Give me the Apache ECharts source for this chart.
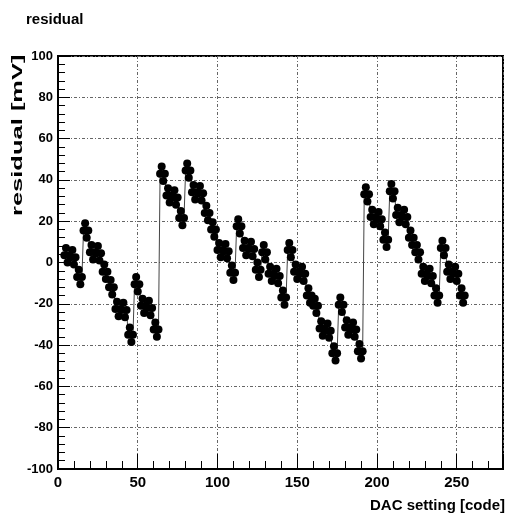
<!DOCTYPE html>
<html>
<head>
<meta charset="utf-8">
<script src="https://cdn.jsdelivr.net/npm/echarts@6/dist/echarts.min.js"></script>
<style>
html,body{margin:0;padding:0;background:#fff;}
#chart{width:510px;height:520px;}
</style>
</head>
<body>
<div id="chart"></div>
<script>
// ---- data ----
const chartTitle = 'residual';
const xAxisTitle = 'DAC setting [code]';
const yAxisTitle = 'residual [mV]';
const xRange = [0, 279];
const yRange = [-100, 100];
const xTickValues = [0, 50, 100, 150, 200, 250];
const yTickValues = [-100, -80, -60, -40, -20, 0, 20, 40, 60, 80, 100];

const dacCodes = [
  4,5,6,7,8,9,10,11,12,13,14,15,
  16,17,18,19,20,21,22,23,24,25,26,27,28,29,30,31,
  32,33,34,35,36,37,38,39,40,41,42,43,44,45,46,47,
  48,49,50,51,52,53,54,55,56,57,58,59,60,61,62,63,
  64,65,66,67,68,69,70,71,72,73,74,75,76,77,78,79,
  80,81,82,83,84,85,86,87,88,89,90,91,92,93,94,95,
  96,97,98,99,100,101,102,103,104,105,106,107,108,109,110,111,
  112,113,114,115,116,117,118,119,120,121,122,123,124,125,126,127,
  128,129,130,131,132,133,134,135,136,137,138,139,140,141,142,143,
  144,145,146,147,148,149,150,151,152,153,154,155,156,157,158,159,
  160,161,162,163,164,165,166,167,168,169,170,171,172,173,174,175,
  176,177,178,179,180,181,182,183,184,185,186,187,188,189,190,191,
  192,193,194,195,196,197,198,199,200,201,202,203,204,205,206,207,
  208,209,210,211,212,213,214,215,216,217,218,219,220,221,222,223,
  224,225,226,227,228,229,230,231,232,233,234,235,236,237,238,239,
  240,241,242,243,244,245,246,247,248,249,250,251,252,253,254,255
];

const residualMv = [
  3.5,7,0,3.5, 2.5,6,-1,2.5, -7,-3.5,-10.5,-7,
  15.5,19,12,15.5, 5,8.5,1.5,5, 4.5,8,1,4.5, -4.5,-1,-8,-4.5,
  -12,-8.5,-15.5,-12, -22.5,-19,-26,-22.5, -23,-19.5,-26.5,-23, -35,-31.5,-38.5,-35,
  -10.5,-7,-14,-10.5, -21,-17.5,-24.5,-21, -22,-18.5,-25.5,-22, -32.5,-29,-36,-32.5,
  43,46.5,39.5,43, 32.5,36,29,32.5, 31.5,35,28,31.5, 21.5,25,18,21.5,
  44.5,48,41,44.5, 34,37.5,30.5,34, 33.5,37,30,33.5, 24,27.5,20.5,24,
  16,19.5,12.5,16, 6,9.5,2.5,6, 5.5,9,2,5.5, -5,-1.5,-8.5,-5,
  17.5,21,14,17.5, 7,10.5,3.5,7, 6.5,10,3,6.5, -3.5,0,-7,-3.5,
  5,8.5,1.5,5, -5.5,-2,-9,-5.5, -6.5,-3,-10,-6.5, -17,-13.5,-20.5,-17,
  6,9.5,2.5,6, -4.5,-1,-8,-4.5, -5.5,-2,-9,-5.5, -16,-12.5,-19.5,-16,
  -21,-17.5,-24.5,-21, -32,-28.5,-35.5,-32, -33,-29.5,-36.5,-33, -44,-40.5,-47.5,-44,
  -20.5,-17,-24,-20.5, -31.5,-28,-35,-31.5, -32.5,-29,-36,-32.5, -43,-39.5,-46.5,-43,
  33,36.5,29.5,33, 22,25.5,18.5,22, 21,24.5,17.5,21, 11,14.5,7.5,11,
  34.5,38,31,34.5, 23,26.5,19.5,23, 22,25.5,18.5,22, 12,15.5,8.5,12,
  5,8.5,1.5,5, -5.5,-2,-9,-5.5, -6.5,-3,-10,-6.5, -16,-12.5,-19.5,-16,
  7,10.5,3.5,7, -4.5,-1,-8,-4.5, -5.5,-2,-9,-5.5, -16,-12.5,-19.5,-16
];

// ---- chart ----
const FONT = "'Liberation Sans',Arial,sans-serif";
const seriesData = dacCodes.map((c, i) => [c, residualMv[i]]);
const gridLine = {show: true, lineStyle: {color: '#666', width: 1, type: [3, 2, 1, 2]}};

const chart = echarts.init(document.getElementById('chart'), null, {renderer: 'canvas'});
chart.setOption({
  animation: false,
  backgroundColor: '#fff',
  title: {
    text: chartTitle, left: 21, top: 7,
    textStyle: {fontFamily: FONT, fontSize: 15, fontWeight: 'bold', color: '#000'}
  },
  grid: {left: 58, right: 7, top: 56, bottom: 51, show: true, borderColor: '#000', borderWidth: 2, containLabel: false, outerBoundsMode: 'none'},
  xAxis: [{
    type: 'value', min: xRange[0], max: xRange[1], interval: 10, position: 'bottom',
    axisLine: {show: true, onZero: false, lineStyle: {color: '#000', width: 2}},
    axisTick: {show: true, inside: true, length: 8, lineStyle: {color: '#000', width: 1}},
    axisLabel: {
      margin: 6, color: '#000', fontFamily: FONT, fontSize: 15, fontWeight: 'bold',
      formatter: v => xTickValues.indexOf(v) >= 0 ? String(v) : ''
    },
    splitLine: {show: false},
    name: xAxisTitle, nameLocation: 'end', nameGap: 2,
    nameTextStyle: {fontFamily: FONT, fontSize: 15, fontWeight: 'bold', color: '#000', align: 'right', verticalAlign: 'top', padding: [29, 0, 0, 0]}
  }, {
    type: 'value', min: xRange[0], max: xRange[1], interval: 50, position: 'bottom',
    axisLine: {show: false, onZero: false},
    axisTick: {show: true, inside: true, length: 15, lineStyle: {color: '#000', width: 1}},
    axisLabel: {show: false},
    splitLine: gridLine
  }],
  yAxis: [{
    type: 'value', min: yRange[0], max: yRange[1], interval: 4, position: 'left',
    axisLine: {show: true, onZero: false, lineStyle: {color: '#000', width: 2}},
    axisTick: {show: true, inside: true, length: 7, lineStyle: {color: '#000', width: 1}},
    axisLabel: {
      margin: 5, color: '#000', fontFamily: FONT, fontSize: 13, fontWeight: 'bold',
      formatter: v => yTickValues.indexOf(v) >= 0 ? String(v) : ''
    },
    splitLine: {show: false}
  }, {
    type: 'value', min: yRange[0], max: yRange[1], interval: 20, position: 'left', offset: 0,
    axisLine: {show: false, onZero: false},
    axisTick: {show: true, inside: true, length: 12, lineStyle: {color: '#000', width: 1}},
    axisLabel: {show: false},
    splitLine: gridLine
  }],
  graphic: [{
    type: 'text', x: 25, y: 216, rotation: Math.PI / 2, scaleX: 1.7, scaleY: 1,
    style: {text: yAxisTitle, font: "bold 15px " + FONT, fill: '#000', textAlign: 'left', textVerticalAlign: 'bottom'}
  }],
  series: [{
    type: 'line', xAxisIndex: 0, yAxisIndex: 0,
    data: seriesData,
    symbol: 'circle', symbolSize: 8, showSymbol: true,
    itemStyle: {color: '#000'},
    lineStyle: {color: '#444', width: 1},
    z: 5
  }]
});
</script>
</body>
</html>
